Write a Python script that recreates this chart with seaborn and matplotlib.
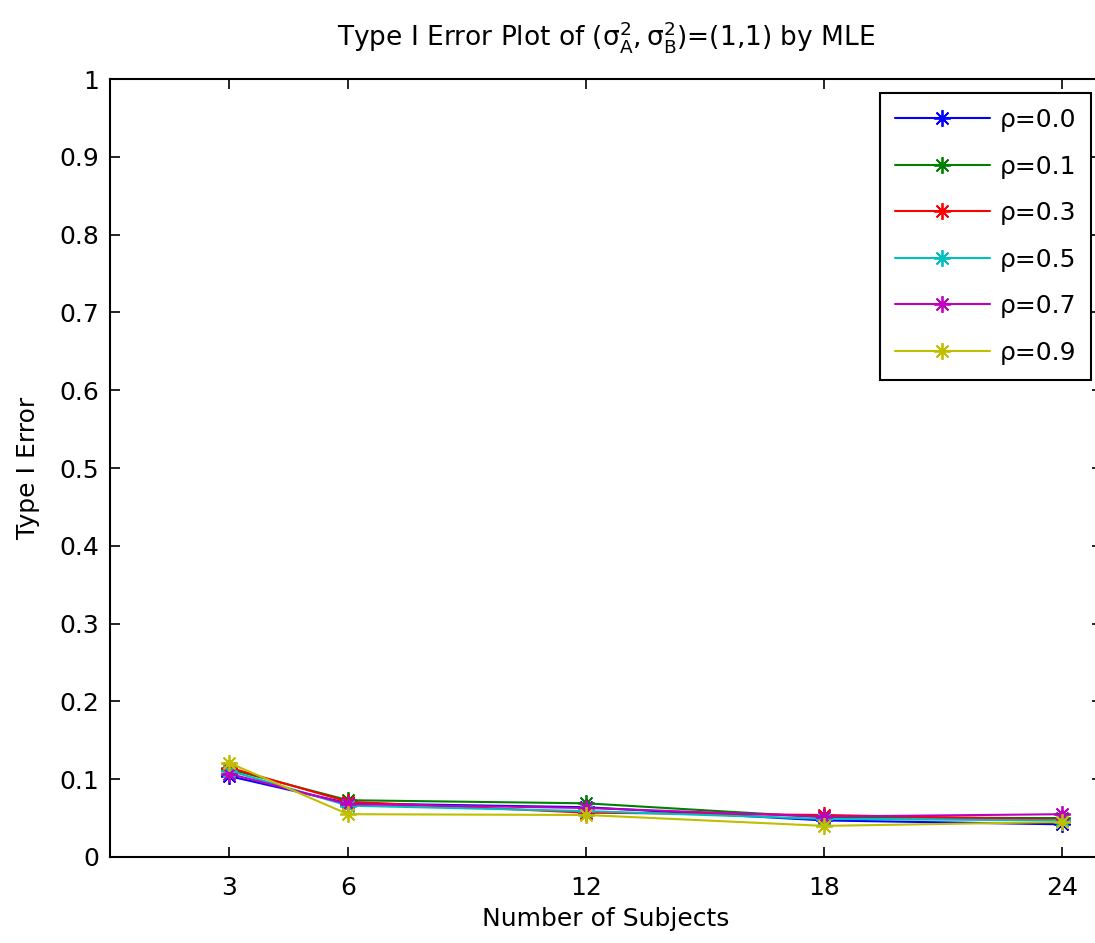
import matplotlib
matplotlib.use("Agg")
import matplotlib.pyplot as plt
import seaborn as sns
import pandas as pd

subjects = [3, 6, 12, 18, 24]
rho_labels = ["ρ=0.0", "ρ=0.1", "ρ=0.3", "ρ=0.5", "ρ=0.7", "ρ=0.9"]
err_rho00 = [0.104, 0.069, 0.064, 0.047, 0.042]
err_rho01 = [0.113, 0.073, 0.069, 0.051, 0.050]
err_rho03 = [0.115, 0.071, 0.057, 0.054, 0.048]
err_rho05 = [0.111, 0.066, 0.059, 0.049, 0.047]
err_rho07 = [0.107, 0.068, 0.063, 0.052, 0.055]
err_rho09 = [0.121, 0.055, 0.054, 0.040, 0.045]
series = [err_rho00, err_rho01, err_rho03, err_rho05, err_rho07, err_rho09]
colors = [(0, 0, 1), (0, 0.5, 0), (1, 0, 0), (0, 0.75, 0.75), (0.75, 0, 0.75), (0.75, 0.75, 0)]
y_ticks = [0, 0.1, 0.2, 0.3, 0.4, 0.5, 0.6, 0.7, 0.8, 0.9, 1]
y_tick_labels = ["0", "0.1", "0.2", "0.3", "0.4", "0.5", "0.6", "0.7", "0.8", "0.9", "1"]

rows = []
for lab, vals in zip(rho_labels, series):
    for x, v in zip(subjects, vals):
        rows.append({"Subjects": x, "Error": v, "rho": lab})
df = pd.DataFrame(rows)

sns.set_style("white")
plt.rcParams["font.family"] = ["DejaVu Sans"]
plt.rcParams["mathtext.fontset"] = "dejavusans"
plt.rcParams["text.color"] = "black"
plt.rcParams["axes.labelcolor"] = "black"

W, H = 1095, 943
fig = plt.figure(figsize=(W / 100, H / 100), dpi=100)
ax = fig.add_axes([110 / W, (H - 857) / H, 992 / W, 778 / H])

for lab, col in zip(rho_labels, colors):
    sub = df[df["rho"] == lab]
    sns.lineplot(data=sub, x="Subjects", y="Error", ax=ax, color=col,
                 marker=(8, 2, 0), markersize=12, markeredgewidth=1.3,
                 markeredgecolor=col, linewidth=1.5, label=lab, errorbar=None)

ax.set_xlim(0, 25)
ax.set_ylim(0, 1)
ax.set_xticks(subjects)
ax.set_xticklabels([str(s) for s in subjects])
ax.set_yticks(y_ticks)
ax.set_yticklabels(y_tick_labels)
ax.tick_params(direction="in", length=7, width=1.2, labelsize=18, top=True, right=True,
               left=True, bottom=True, colors="black", pad=8)
ax.tick_params(axis="x", pad=14)
for sp in ax.spines.values():
    sp.set_color("black")
    sp.set_linewidth(1.5)

ax.set_xlabel("Number of Subjects", fontsize=18, labelpad=5)
ax.set_ylabel("Type I Error", fontsize=18, labelpad=14)
ax.set_title(r"Type I Error Plot of $\mathregular{(\sigma^2_A,\sigma^2_B)}$=(1,1) by MLE",
             fontsize=19, pad=24)

leg = ax.legend(loc="upper left", bbox_to_anchor=(0.776, 0.982), borderaxespad=0,
                fontsize=18, labelspacing=0.9, handlelength=3.8, handletextpad=0.4,
                fancybox=False, framealpha=1, edgecolor="black", borderpad=0.6)
leg.get_frame().set_linewidth(1.5)

fig.savefig("out.png", dpi=100)
